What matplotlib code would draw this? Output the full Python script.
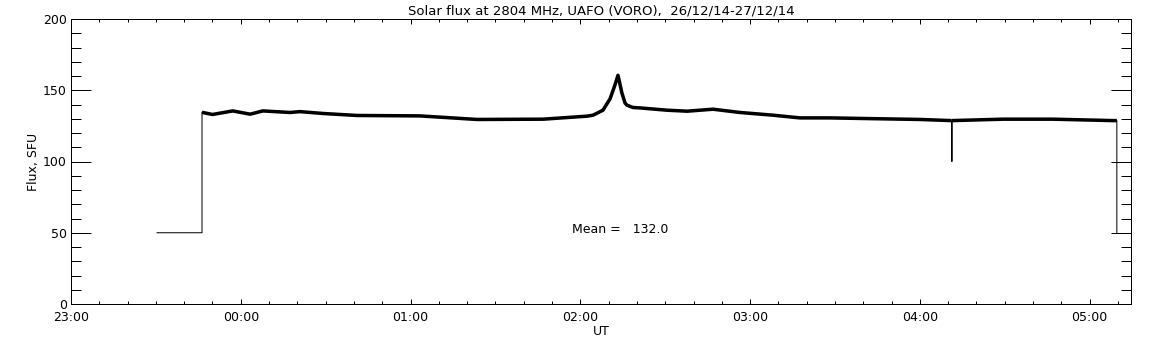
import matplotlib
matplotlib.use("Agg")
import matplotlib.pyplot as plt
from matplotlib.ticker import MultipleLocator, FixedLocator

# minutes after 23:00 UT, flux in SFU
minutes = [30.4, 46.3, 46.3, 50.0, 57.2, 63.3, 67.8, 77.4, 80.9, 89.0, 101.1,
           123.3, 143.5, 166.8, 182.3, 184.5, 188.0, 190.5, 192.2, 193.3,
           194.7, 195.8, 196.5, 198.6, 201.1, 210.6, 217.7, 226.9, 236.4,
           248.1, 257.6, 268.2, 282.3, 300.0, 311.25, 311.3, 311.35, 329.3,
           347.0, 368.2, 369.6, 369.6]
flux = [50, 50, 134.5, 133.0, 135.5, 133.2, 135.5, 134.4, 135.0, 133.7, 132.3,
        132.0, 129.5, 129.7, 131.8, 132.5, 136.0, 144.0, 153.5, 160.5,
        148.0, 141.0, 139.5, 137.9, 137.6, 136.0, 135.3, 136.7, 134.4,
        132.5, 130.6, 130.6, 130.1, 129.5, 128.7, 100.0, 128.7, 129.7,
        129.7, 128.7, 128.7, 50]

hour_labels = ["23:00", "00:00", "01:00", "02:00", "03:00", "04:00", "05:00"]
mean_flux = 132.0

plt.rcParams["font.family"] = "DejaVu Sans"
px = 0.72  # one pixel in points at dpi 100

fig = plt.figure(figsize=(11.52, 3.45), dpi=100)
ax = fig.add_axes([71 / 1152, 41 / 345, 1060 / 1152, 285 / 345])

# thin line for the whole record (gaps, spike), thick for the noisy flux part
ax.plot(minutes, flux, color="black", lw=1 * px)
dip = flux.index(100.0)
ax.plot(minutes[2:dip], flux[2:dip], color="black", lw=3.5 * px,
        solid_joinstyle="round", solid_capstyle="butt")
ax.plot(minutes[dip + 1:-1], flux[dip + 1:-1], color="black", lw=3.5 * px,
        solid_joinstyle="round", solid_capstyle="butt")

ax.set_xlim(0, 374.6)
ax.set_ylim(0, 200)

ax.xaxis.set_major_locator(FixedLocator([60 * i for i in range(len(hour_labels))]))
ax.set_xticklabels(hour_labels)
ax.xaxis.set_minor_locator(MultipleLocator(10))
ax.yaxis.set_major_locator(MultipleLocator(50))
ax.yaxis.set_minor_locator(MultipleLocator(10))

ax.tick_params(axis="x", which="major", direction="in", length=5 * px,
               width=px, top=True, labelsize=9, pad=5)
ax.tick_params(axis="x", which="minor", direction="in", length=3 * px,
               width=px, top=True)
ax.tick_params(axis="y", which="major", direction="in", length=20 * px,
               width=px, right=True, labelsize=9, pad=3)
ax.tick_params(axis="y", which="minor", direction="in", length=10 * px,
               width=px, right=True)
for s in ax.spines.values():
    s.set_linewidth(px)

ax.set_title("Solar flux at 2804 MHz, UAFO (VORO),  26/12/14-27/12/14",
             fontsize=9.5, pad=3)
ax.set_xlabel("UT", fontsize=9, labelpad=1)
ax.set_ylabel("Flux, SFU", fontsize=9, labelpad=2)
ax.text(177, 52, f"Mean =   {mean_flux:.1f}", fontsize=9, va="center")

fig.savefig("out.png", dpi=100)
